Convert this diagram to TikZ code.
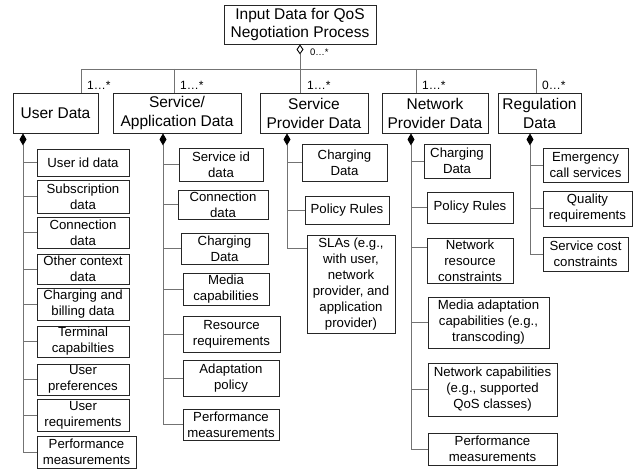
\documentclass[tikz,border=0pt]{standalone}
\usepackage{fontspec}
\setmainfont{Liberation Sans}
\usetikzlibrary{arrows.meta}
\begin{document}
\begin{tikzpicture}[x=1pt,y=-1pt,
  box/.style={draw=black!85, line width=0.9pt, inner sep=0pt, align=center},
  title/.style={box, font=\fontsize{15.5}{17.5}\selectfont},
  cat/.style={box, font=\fontsize{15.5}{19}\selectfont},
  item/.style={box, font=\fontsize{13.2}{16}\selectfont},
  link/.style={draw=black!55, line width=0.9pt},
  agg/.style={link, {Diamond[open, length=10pt, width=7pt, color=black]}-},
  comp/.style={link, {Diamond[length=12pt, width=7pt, color=black, fill=black]}-},
  mult/.style={inner sep=0pt, anchor=base west, font=\fontsize{12}{12}\selectfont},
  multsmall/.style={mult, font=\fontsize{9.5}{9.5}\selectfont}
]
\fill[white] (0,0) rectangle (644,470);
\useasboundingbox (0,0) rectangle (644,470);

% root
\node[title, minimum width=152pt, minimum height=39pt] (T) at (300,24.5)
  {Input Data for QoS\\Negotiation Process};

% categories
\node[cat, minimum width=85pt,  minimum height=40pt] (UD) at (55.5,113) {User Data};
\node[cat, minimum width=128pt, minimum height=40pt] (SA) at (177,113) {Service/\\Application Data};
\node[cat, minimum width=108pt, minimum height=40pt] (SP) at (314,113) {Service\\Provider Data};
\node[cat, minimum width=106pt, minimum height=40pt] (NP) at (435,113) {Network\\Provider Data};
\node[cat, minimum width=83pt,  minimum height=40pt] (RD) at (539.5,113) {Regulation\\Data};

% user data items
\node[item, minimum width=92pt, minimum height=27pt] (U1) at (83,162.5) {User id data};
\node[item, minimum width=92pt, minimum height=33pt] (U2) at (83,196.5) {Subscription\\data};
\node[item, minimum width=92pt, minimum height=31pt] (U3) at (83,232.5) {Connection\\data};
\node[item, minimum width=92pt, minimum height=30pt] (U4) at (83,269) {Other context\\data};
\node[item, minimum width=92pt, minimum height=32pt] (U5) at (83,304) {Charging and\\billing data};
\node[item, minimum width=92pt, minimum height=31pt] (U6) at (83,341.5) {Terminal\\capabilties};
\node[item, minimum width=92pt, minimum height=31pt] (U7) at (83,379.5) {User\\preferences};
\node[item, minimum width=92pt, minimum height=32pt] (U8) at (83,415) {User\\requirements};
\node[item, minimum width=99pt, minimum height=32pt] (U9) at (86.5,452) {Performance\\measurements};

% service / application items
\node[item, minimum width=84pt, minimum height=33pt] (S1) at (221,164.5) {Service id\\data};
\node[item, minimum width=90pt, minimum height=29pt] (S2) at (223,204.5) {Connection\\data};
\node[item, minimum width=87pt, minimum height=31pt] (S3) at (224.5,248.5) {Charging\\Data};
\node[item, minimum width=86pt, minimum height=32pt] (S4) at (226,289) {Media\\capabilities};
\node[item, minimum width=97pt, minimum height=36pt] (S5) at (231.5,334) {Resource\\requirements};
\node[item, minimum width=96pt, minimum height=36pt] (S6) at (231,378) {Adaptation\\policy};
\node[item, minimum width=96pt, minimum height=31pt] (S7) at (231,424.5) {Performance\\measurements};

% service provider items
\node[item, minimum width=85pt, minimum height=37pt] (P1) at (344.5,162.5) {Charging\\Data};
\node[item, minimum width=84pt, minimum height=28pt] (P2) at (347,210) {Policy Rules};
\node[item, minimum width=88pt, minimum height=98pt] (P3) at (351,284)
  {SLAs (e.g.,\\with user,\\network\\provider, and\\application\\provider)};

% network provider items
\node[item, minimum width=66pt,  minimum height=34pt] (N1) at (457,161) {Charging\\Data};
\node[item, minimum width=86pt,  minimum height=31pt] (N2) at (470,207.5) {Policy Rules};
\node[item, minimum width=86pt,  minimum height=45pt] (N3) at (470,260.5) {Network\\resource\\constraints};
\node[item, minimum width=121pt, minimum height=51pt] (N4) at (488.5,322.5) {Media adaptation\\capabilities (e.g.,\\transcoding)};
\node[item, minimum width=129pt, minimum height=53pt] (N5) at (492.5,389.5) {Network capabilities\\(e.g., supported\\QoS classes)};
\node[item, minimum width=129pt, minimum height=32pt] (N6) at (492.5,449) {Performance\\measurements};

% regulation items
\node[item, minimum width=85pt, minimum height=34pt] (R1) at (585.5,165) {Emergency\\call services};
\node[item, minimum width=89pt, minimum height=35pt] (R2) at (587.5,208.5) {Quality\\requirements};
\node[item, minimum width=85pt, minimum height=34pt] (R3) at (585.5,254) {Service cost\\constraints};

% bus and drop positions
\coordinate (bus) at (0,69);
\coordinate (xU) at (81,0);
\coordinate (xS) at (174,0);
\coordinate (xP) at (T.south);
\coordinate (xN) at (416,0);
\coordinate (xR) at (536,0);

% aggregation from the root
\draw[agg] (T.south) -- (bus -| T.south);
\draw[link] (UD.north -| xU) -- (bus -| xU) -- (bus -| xR) -- (RD.north -| xR);
\draw[link] (bus -| xS) -- (SA.north -| xS);
\draw[link] (bus -| xP) -- (SP.north -| xP);
\draw[link] (bus -| xN) -- (NP.north -| xN);

% multiplicities
\node[multsmall] (m0) at (310,55.5) {0…*};
\node[mult] (m1) at (87,89.5) {1…*};
\node[mult] (m2) at (180,89.5) {1…*};
\node[mult] (m3) at (307,89.5) {1…*};
\node[mult] (m4) at (422,89.5) {1…*};
\node[mult] (m5) at (542,89.5) {0…*};

% trunk positions and off-centre entry points
\coordinate (tU) at (23,0);
\coordinate (tS) at (163,0);
\coordinate (tP) at (287,0);
\coordinate (tN) at (411,0);
\coordinate (tR) at (530,0);
\coordinate (p3in) at ([yshift=-14pt]P3.north west);
\coordinate (n3in) at ([yshift=-10pt]N3.north west);

% compositions
\draw[comp] (UD.south -| tU) |- (U9.west);
\foreach \k in {1,...,8} \draw[link] (tU |- U\k.west) -- (U\k.west);

\draw[comp] (SA.south -| tS) |- (S7.west);
\foreach \k in {1,...,6} \draw[link] (tS |- S\k.west) -- (S\k.west);

\draw[comp] (SP.south -| tP) |- (p3in);
\foreach \k in {1,2} \draw[link] (tP |- P\k.west) -- (P\k.west);

\draw[comp] (NP.south -| tN) |- (N6.west);
\foreach \k in {1,2,4,5} \draw[link] (tN |- N\k.west) -- (N\k.west);
\draw[link] (tN |- n3in) -- (n3in);

\draw[comp] (RD.south -| tR) |- (R3.west);
\foreach \k in {1,2} \draw[link] (tR |- R\k.west) -- (R\k.west);
\end{tikzpicture}
\end{document}
